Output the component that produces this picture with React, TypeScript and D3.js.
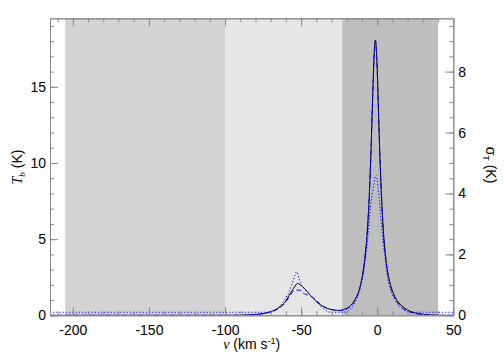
import { useEffect, useRef } from 'react'
import * as d3 from 'd3'

// brightness temperature (observed), [v km/s, Tb K]
const tbObs: [number, number][] = [
  [-215, 0], [-100, 0], [-88, 0.01], [-82, 0.04], [-78, 0.07], [-75, 0.11], [-72, 0.18],
  [-69, 0.28], [-66, 0.42], [-63, 0.62], [-60, 0.95], [-58, 1.3], [-57, 1.45], [-56, 1.6],
  [-54, 1.92], [-53, 2.05], [-52.5, 2.1], [-51.5, 2.06], [-50, 1.95], [-48, 1.78], [-46, 1.56],
  [-44, 1.32], [-42, 1.1], [-40, 0.9], [-38, 0.73], [-36, 0.6], [-34, 0.5], [-31, 0.4],
  [-28, 0.34], [-26, 0.32], [-24, 0.33], [-22, 0.38], [-20, 0.46], [-18, 0.58], [-16, 0.8],
  [-14, 1.15], [-12, 1.6], [-10, 2.45], [-8, 3.8], [-6, 6.3], [-5, 8.3], [-4, 11.0],
  [-3, 14.3], [-2, 17.2], [-1.2, 18.07], [0, 16.2], [1, 12.9], [2, 9.8], [3, 7.4], [4, 5.6],
  [6, 3.45], [8, 2.28], [10, 1.6], [12, 1.15], [14, 0.85], [17, 0.55], [20, 0.35], [24, 0.18],
  [28, 0.09], [32, 0.04], [36, 0.015], [40, 0], [50, 0],
]

// model fit
const tbModel: [number, number][] = [
  [-215, 0], [-100, 0], [-88, 0.01], [-82, 0.03], [-78, 0.06], [-75, 0.1], [-72, 0.16],
  [-69, 0.25], [-66, 0.38], [-63, 0.56], [-60, 0.88], [-58, 1.18], [-56, 1.48], [-54.5, 1.64],
  [-52, 1.66], [-50, 1.63], [-48.5, 1.45], [-47, 1.38], [-45, 1.32], [-43, 1.22], [-41, 1.08],
  [-39, 0.88], [-37, 0.7], [-35, 0.57], [-33, 0.47], [-30, 0.38], [-28, 0.34], [-26, 0.31],
  [-24, 0.31], [-22, 0.35], [-20, 0.42], [-18, 0.55], [-16, 0.76], [-14, 1.1], [-12, 1.6],
  [-10, 2.45], [-8, 3.85], [-6, 6.3], [-5, 8.3], [-4, 11.0], [-3, 14.2], [-2, 17.0],
  [-1.2, 18.0], [0, 16.1], [1, 12.8], [2, 9.8], [3, 7.4], [4, 5.6], [6, 3.4], [8, 2.2],
  [10, 1.5], [12, 1.05], [14, 0.75], [17, 0.45], [20, 0.28], [24, 0.14], [28, 0.07],
  [32, 0.03], [36, 0.01], [40, 0], [50, 0],
]

// sigma_T (right axis)
const sigmaT: [number, number][] = [
  [-215, 0.1], [-70, 0.1], [-68, 0.13], [-66, 0.2], [-64, 0.3], [-62, 0.42], [-60, 0.58],
  [-58, 0.76], [-56, 1.02], [-55, 1.18], [-54, 1.32], [-53, 1.43], [-52, 1.32], [-51, 1.15],
  [-50, 1.02], [-48, 0.88], [-46, 0.76], [-44, 0.66], [-42, 0.56], [-40, 0.47], [-38, 0.36],
  [-36, 0.25], [-34, 0.17], [-32, 0.11], [-30, 0.1], [-22, 0.1], [-20, 0.12], [-18, 0.19],
  [-16, 0.3], [-15, 0.39], [-13, 0.6], [-11, 0.92], [-10, 1.12], [-9, 1.4], [-8, 1.75],
  [-7, 2.15], [-6, 2.65], [-5, 3.25], [-4, 3.7], [-3, 4.05], [-2, 4.35], [-0.7, 4.6],
  [0, 4.45], [1, 4.0], [2, 3.45], [3, 2.85], [4, 2.35], [5, 1.95], [6, 1.55], [7, 1.2],
  [8, 0.98], [10, 0.68], [12, 0.48], [13, 0.4], [15, 0.28], [17, 0.19], [19, 0.13],
  [21, 0.1], [50, 0.1],
]

// shaded velocity windows
const bands: { from: number; to: number; fill: string }[] = [
  { from: -205, to: -100, fill: '#d3d3d3' },
  { from: -100, to: -23, fill: '#e6e6e6' },
  { from: -23, to: 40, fill: '#bebebe' },
]

const xTicks = [-200, -150, -100, -50, 0, 50]
const yLeftTicks = [0, 5, 10, 15]
const yRightTicks = [0, 2, 4, 6, 8]

const FONT = "'Liberation Sans', Arial, Helvetica, sans-serif"
const SERIF = "'Liberation Serif', 'DejaVu Serif', serif"
const AXIS = '#8a8a8a'

export default function App() {
  const svgRef = useRef<SVGSVGElement>(null)

  useEffect(() => {
    if (!svgRef.current) return
    const width = 504
    const height = 360
    const left = 50
    const right = 453.3
    const top = 18.3
    const bottom = 315.3

    const svg = d3.select(svgRef.current)
    svg.selectAll('*').remove()
    svg.attr('width', width).attr('height', height)

    svg.append('rect').attr('width', width).attr('height', height).attr('fill', '#fff')

    const x = d3.scaleLinear().domain([-215, 50]).range([left, right])
    const yL = d3.scaleLinear().domain([0, 19.5]).range([bottom, top])
    const yR = d3.scaleLinear().domain([0, 9.75]).range([bottom, top])

    // shaded regions
    svg.selectAll('.band')
      .data(bands)
      .enter()
      .append('rect')
      .attr('x', d => x(d.from))
      .attr('y', top)
      .attr('width', d => x(d.to) - x(d.from))
      .attr('height', bottom - top)
      .attr('fill', d => d.fill)

    svg.append('clipPath').attr('id', 'plot-clip')
      .append('rect').attr('x', left).attr('y', top).attr('width', right - left).attr('height', bottom - top)

    const lineL = d3.line<[number, number]>().x(d => x(d[0])).y(d => yL(d[1])).curve(d3.curveMonotoneX)
    const lineR = d3.line<[number, number]>().x(d => x(d[0])).y(d => yR(d[1])).curve(d3.curveMonotoneX)

    const curves = svg.append('g').attr('clip-path', 'url(#plot-clip)')
    curves.append('path').attr('d', lineL(tbObs)).attr('fill', 'none')
      .attr('stroke', '#000').attr('stroke-width', 1)
    curves.append('path').attr('d', lineL(tbModel)).attr('fill', 'none')
      .attr('stroke', '#0000ff').attr('stroke-width', 1).attr('stroke-dasharray', '5,3')
    curves.append('path').attr('d', lineR(sigmaT)).attr('fill', 'none')
      .attr('stroke', '#0000ff').attr('stroke-width', 1).attr('stroke-dasharray', '1.2,2')

    // axes (ticks point inward)
    const styleAxis = (g: d3.Selection<SVGGElement, unknown, null, undefined>) => {
      g.select('.domain').attr('stroke', AXIS)
      g.selectAll('line').attr('stroke', AXIS)
      g.selectAll('text').attr('fill', '#000').style('font-family', FONT).style('font-size', '14px')
    }
    const plain = (d: d3.NumberValue) => String(d)

    const minorX = d3.range(-210, 51, 10)
    const minorYL = d3.range(0, 19.5, 1)
    const minorYR = d3.range(0, 9.75, 0.5)

    svg.append('g').attr('transform', `translate(0,${bottom})`)
      .call(d3.axisBottom(x).tickValues(minorX).tickSize(-4).tickSizeOuter(0).tickFormat(() => ''))
      .call(styleAxis)
    svg.append('g').attr('transform', `translate(0,${bottom})`)
      .call(d3.axisBottom(x).tickValues(xTicks).tickSize(-8).tickSizeOuter(0).tickPadding(10).tickFormat(plain))
      .call(styleAxis)

    svg.append('g').attr('transform', `translate(0,${top})`)
      .call(d3.axisTop(x).tickValues(minorX).tickSize(-4).tickSizeOuter(0).tickFormat(() => ''))
      .call(styleAxis)
    svg.append('g').attr('transform', `translate(0,${top})`)
      .call(d3.axisTop(x).tickValues(xTicks).tickSize(-8).tickSizeOuter(0).tickFormat(() => ''))
      .call(styleAxis)

    svg.append('g').attr('transform', `translate(${left},0)`)
      .call(d3.axisLeft(yL).tickValues(minorYL).tickSize(-4).tickSizeOuter(0).tickFormat(() => ''))
      .call(styleAxis)
    svg.append('g').attr('transform', `translate(${left},0)`)
      .call(d3.axisLeft(yL).tickValues(yLeftTicks).tickSize(-8).tickSizeOuter(0).tickPadding(4).tickFormat(plain))
      .call(styleAxis)

    svg.append('g').attr('transform', `translate(${right},0)`)
      .call(d3.axisRight(yR).tickValues(minorYR).tickSize(-4).tickSizeOuter(0).tickFormat(() => ''))
      .call(styleAxis)
    svg.append('g').attr('transform', `translate(${right},0)`)
      .call(d3.axisRight(yR).tickValues(yRightTicks).tickSize(-8).tickSizeOuter(0).tickPadding(5).tickFormat(plain))
      .call(styleAxis)

    // x title
    const xt = svg.append('text')
      .attr('x', (left + right) / 2)
      .attr('y', 349)
      .attr('text-anchor', 'middle')
      .style('font-family', FONT)
      .style('font-size', '14px')
    xt.append('tspan').style('font-family', SERIF).style('font-style', 'italic').text('v')
    xt.append('tspan').text(' (km s')
    xt.append('tspan').attr('dy', -5).style('font-size', '9px').text('-1')
    xt.append('tspan').attr('dy', 5).text(')')

    // left title
    const yt = svg.append('text')
      .attr('transform', 'translate(22,167) rotate(-90)')
      .attr('text-anchor', 'middle')
      .style('font-family', FONT)
      .style('font-size', '14px')
    yt.append('tspan').style('font-family', SERIF).style('font-style', 'italic').text('T')
    yt.append('tspan').attr('dy', 3).style('font-size', '9px').style('font-family', SERIF).style('font-style', 'italic').text('b')
    yt.append('tspan').attr('dy', -3).text(' (K)')

    // right title
    const rt = svg.append('text')
      .attr('transform', 'translate(486,165) rotate(90)')
      .attr('text-anchor', 'middle')
      .style('font-family', FONT)
      .style('font-size', '14px')
    rt.append('tspan').text('σ')
    rt.append('tspan').attr('dy', 3).style('font-size', '9px').text('T')
    rt.append('tspan').attr('dy', -3).text(' (K)')
  }, [])

  return (
    <div style={{ position: 'absolute', left: 0, top: 0 }}>
      <svg ref={svgRef}></svg>
    </div>
  )
}
